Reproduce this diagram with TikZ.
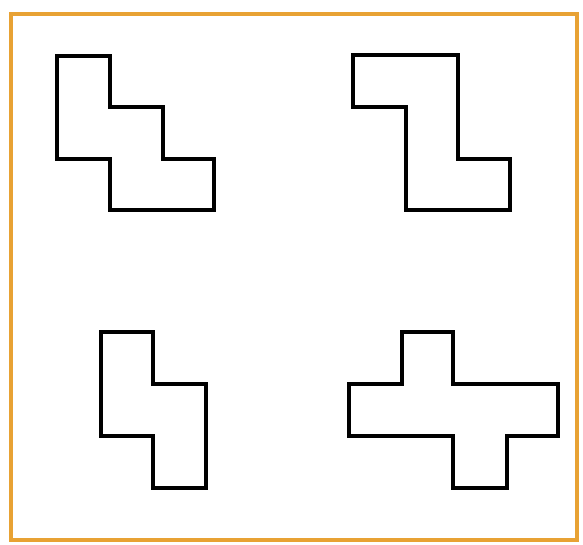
\documentclass[tikz,border=0pt]{standalone}
\definecolor{marco}{RGB}{232,162,52}
\begin{document}
\begin{tikzpicture}[x=0.02cm, y=-0.02cm, pieza/.style={line width=2.3pt, line join=miter}]
    \useasboundingbox (0,0) rectangle (583,545);
    % Marco
    \draw[marco, line width=2.3pt] (11,14) rectangle (577,540);
    % Piezas de arriba
    \draw[pieza] (57,56) -- (110,56) -- (110,107) -- (163,107) -- (163,159) -- (214,159)
        -- (214,210) -- (110,210) -- (110,159) -- (57,159) -- cycle;
    \draw[pieza] (353,55) -- (458,55) -- (458,159) -- (510,159) -- (510,210) -- (406,210)
        -- (406,107) -- (353,107) -- cycle;
    % Piezas de abajo
    \draw[pieza] (101,332) -- (153,332) -- (153,384) -- (206,384) -- (206,488) -- (153,488)
        -- (153,436) -- (101,436) -- cycle;
    \draw[pieza] (402,332) -- (453,332) -- (453,384) -- (558,384) -- (558,436) -- (507,436)
        -- (507,488) -- (453,488) -- (453,436) -- (349,436) -- (349,384) -- (402,384) -- cycle;
\end{tikzpicture}
\end{document}
